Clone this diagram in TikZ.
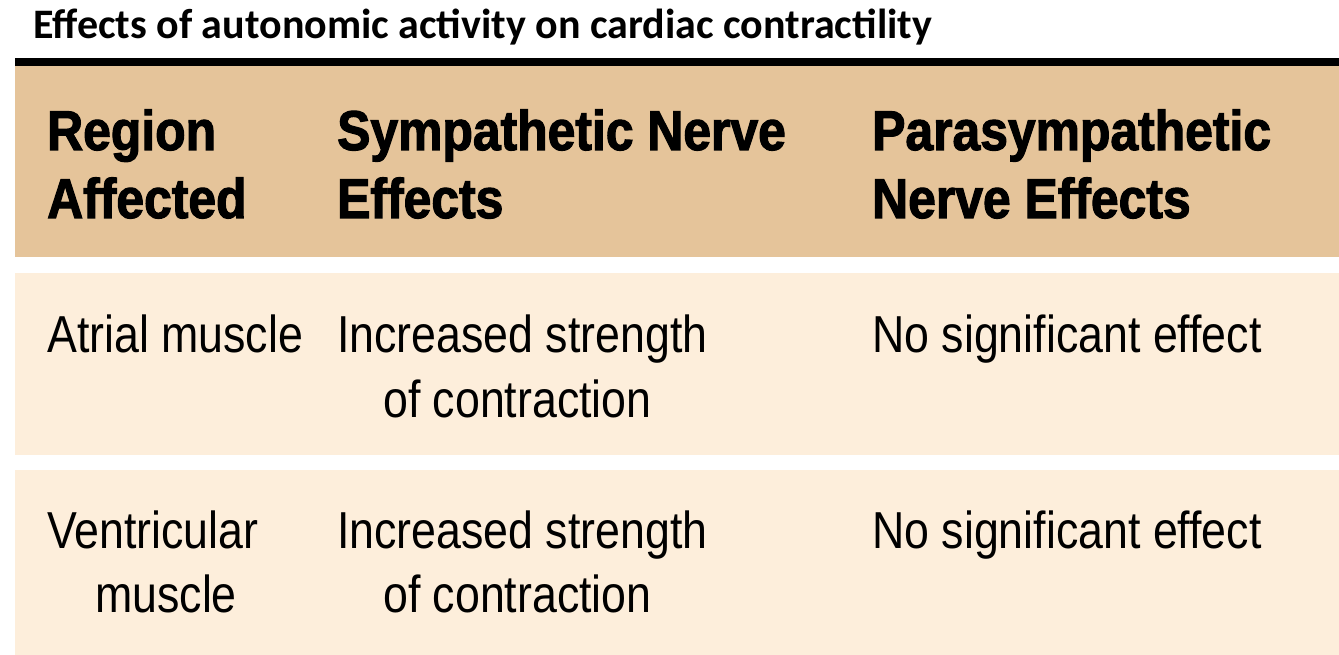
\documentclass[tikz,border=0pt]{standalone}
\usepackage{fontspec}
\newfontfamily\cond[FakeStretch=0.86]{Liberation Sans}
\newfontfamily\condb[FakeStretch=0.89,FakeBold=2]{Liberation Sans Bold}
\newfontfamily\ttl{Carlito}
\definecolor{tan}{HTML}{E5C49A}
\definecolor{cream}{HTML}{FDEEDB}
\begin{document}
\begin{tikzpicture}[x=1pt,y=-1pt,
  hd/.style={anchor=base west,inner sep=0,font=\condb\fontsize{56}{60}\selectfont},
  bd/.style={anchor=base west,inner sep=0,font=\cond\fontsize{52}{60}\selectfont}]
\useasboundingbox (0,0) rectangle (1339,655);
\fill[white] (0,0) rectangle (1339,655);
\fill[black] (15,58) rectangle (1339,66);
\fill[tan] (15,66) rectangle (1339,257);
\fill[cream] (15,273) rectangle (1339,455);
\fill[cream] (15,470) rectangle (1339,655);
\node[anchor=base west,inner sep=0,font=\ttl\bfseries\fontsize{42}{46}\selectfont] (title) at (33,39) {Effects of autonomic activity on cardiac contractility};
\node[hd] (h1a) at (47,150) {Region};
\node[hd] (h1b) at (47,218) {Affected};
\node[hd] (h2a) at (337,150) {Sympathetic Nerve};
\node[hd] (h2b) at (337,218) {Effects};
\node[hd] (h3a) at (872,150) {Parasympathetic};
\node[hd] (h3b) at (872,218) {Nerve Effects};
\node[bd] (a1) at (47,352) {Atrial muscle};
\node[bd] (a2) at (337,352) {Increased strength};
\node[bd] (a2b) at (383,417) {of contraction};
\node[bd] (a3) at (872,352) {No significant effect};
\node[bd] (v1) at (47,548) {Ventricular};
\node[bd] (v1b) at (95,612) {muscle};
\node[bd] (v2) at (337,548) {Increased strength};
\node[bd] (v2b) at (383,612) {of contraction};
\node[bd] (v3) at (872,548) {No significant effect};
\end{tikzpicture}
\end{document}
